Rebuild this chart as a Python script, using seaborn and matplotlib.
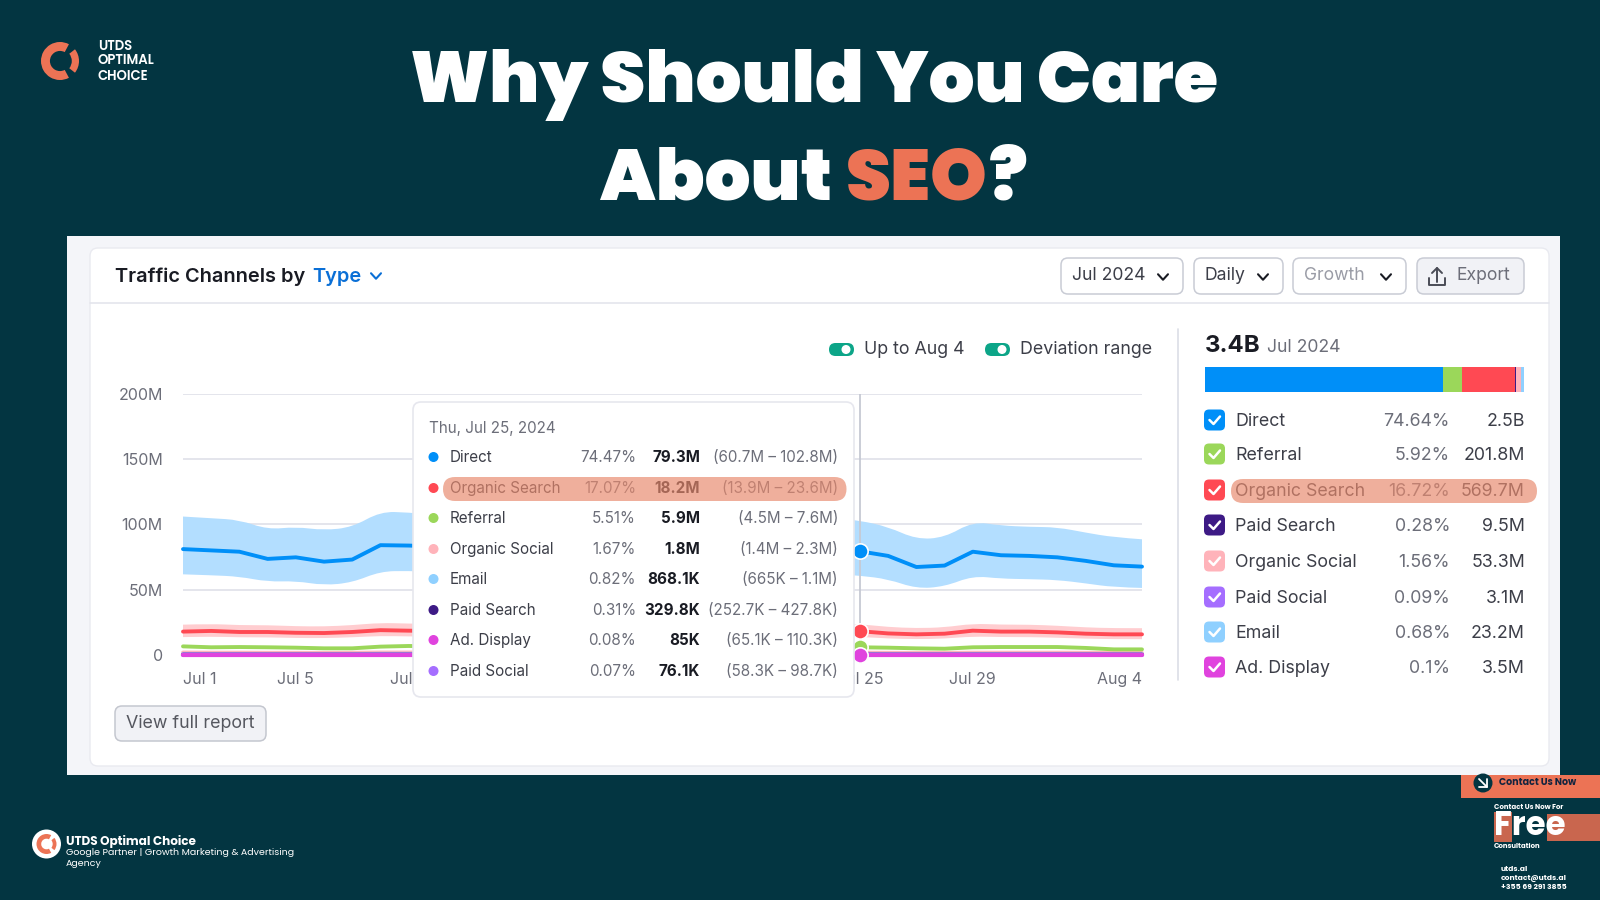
import matplotlib
matplotlib.use("Agg")
import matplotlib.pyplot as plt
import matplotlib.dates as mdates
from matplotlib.path import Path
from matplotlib.patches import FancyBboxPatch, PathPatch, Wedge, Circle, Rectangle
import seaborn as sns
import pandas as pd
import numpy as np

sns.set_theme(style="white")
plt.rcParams["font.family"] = ["Inter", "DejaVu Sans"]

# ---- data (days behind the tooltip are estimates) ----
days = pd.date_range("2024-07-01", "2024-08-04")

direct = [81, 80, 79, 73.5, 74.7, 71.4, 73, 84, 83.7, 83, 82, 80, 78, 76, 79, 82, 84, 81, 80, 78, 77, 80, 82, 81,
          79.3, 75.8, 67.3, 68.4, 79, 76.3, 75.8, 74.7, 72, 68.6, 67.6]
direct_hi = [105.9, 104.6, 103.3, 96, 98, 95.4, 97.7, 109.7, 109, 107, 106, 104, 101, 99, 102, 106, 109, 105, 104, 101, 100, 104, 106, 105,
             102.8, 98, 88.5, 89.8, 102, 99, 98, 97.7, 93.6, 90, 88.5]
direct_lo = [61.7, 61, 60, 56, 56.6, 53.3, 55.4, 64, 64.3, 63.5, 63, 61, 60, 58, 60.5, 63, 64, 62, 61, 60, 59, 61, 63, 62,
             60.7, 58, 50.8, 52.3, 60.5, 58.4, 58, 57.4, 54.8, 51.8, 51.3]
organic = [17.9, 18.4, 17.6, 17.6, 17, 16.8, 17.6, 19, 18.6, 18.4, 18, 17.6, 17.2, 17, 17.6, 18.2, 18.6, 18, 17.8, 17.4, 17.2, 17.8, 18.4, 18.3,
           18.2, 16.5, 15.8, 16.3, 18.6, 17.9, 17.9, 17.3, 16.3, 15.8, 15.8]
organic_hi = [23.2, 23.8, 22.8, 22.8, 22, 21.8, 22.8, 24.6, 24, 23.8, 23.3, 22.8, 22.3, 22, 22.8, 23.6, 24, 23.3, 23, 22.5, 22.3, 23, 23.8, 23.7,
              23.6, 21.4, 20.5, 21.1, 24, 23.2, 23.2, 22.4, 21.1, 20.5, 20.5]
organic_lo = [13.7, 14.1, 13.5, 13.5, 13, 12.9, 13.5, 14.6, 14.2, 14.1, 13.8, 13.5, 13.2, 13, 13.5, 13.9, 14.2, 13.8, 13.6, 13.3, 13.2, 13.6, 14.1, 14,
              13.9, 12.6, 12.1, 12.5, 14.2, 13.7, 13.7, 13.2, 12.5, 12.1, 12.1]
referral = [6.6, 5.9, 6.1, 5.9, 5.6, 5.1, 5.1, 6.4, 6.9, 6.6, 6.4, 6, 5.8, 5.6, 5.9, 6.2, 6.4, 6.1, 6, 5.8, 5.7, 5.9, 6.1, 6,
            5.9, 5.6, 5.1, 4.8, 5.9, 6.1, 6.1, 6.1, 5.4, 4.3, 4.3]
org_social = [1.9, 1.8, 1.8, 1.7, 1.7, 1.6, 1.7, 1.9, 1.9, 1.9, 1.8, 1.8, 1.7, 1.7, 1.8, 1.8, 1.9, 1.8, 1.8, 1.7, 1.7, 1.8, 1.8, 1.8,
              1.8, 1.7, 1.6, 1.6, 1.8, 1.8, 1.8, 1.8, 1.7, 1.6, 1.6]
email = [0.8, 0.8, 0.8, 0.7, 0.7, 0.7, 0.7, 0.9, 0.9, 0.9, 0.8, 0.8, 0.8, 0.8, 0.8, 0.9, 0.9, 0.8, 0.8, 0.8, 0.8, 0.8, 0.9, 0.9,
         0.87, 0.8, 0.7, 0.7, 0.8, 0.8, 0.8, 0.8, 0.7, 0.7, 0.7]
paid_search = [0.3, 0.3, 0.3, 0.3, 0.3, 0.3, 0.3, 0.3, 0.3, 0.3, 0.3, 0.3, 0.3, 0.3, 0.3, 0.3, 0.3, 0.3, 0.3, 0.3, 0.3, 0.3, 0.3, 0.3,
               0.33, 0.3, 0.3, 0.3, 0.3, 0.3, 0.3, 0.3, 0.3, 0.3, 0.3]
ad_display = [0.1, 0.1, 0.1, 0.1, 0.1, 0.1, 0.1, 0.1, 0.1, 0.1, 0.1, 0.1, 0.1, 0.1, 0.1, 0.1, 0.1, 0.1, 0.1, 0.1, 0.1, 0.1, 0.1, 0.1,
              0.085, 0.1, 0.1, 0.1, 0.1, 0.1, 0.1, 0.1, 0.1, 0.1, 0.1]
paid_social = [0.08, 0.08, 0.08, 0.08, 0.08, 0.08, 0.08, 0.08, 0.08, 0.08, 0.08, 0.08, 0.08, 0.08, 0.08, 0.08, 0.08, 0.08, 0.08, 0.08, 0.08, 0.08, 0.08, 0.08,
               0.076, 0.08, 0.08, 0.08, 0.08, 0.08, 0.08, 0.08, 0.08, 0.08, 0.08]

y_ticks = [0, 50, 100, 150, 200]
y_tick_labels = ["0", "50M", "100M", "150M", "200M"]
# Jul 13, 17 and 21 sit fully behind the tooltip in the reference
x_tick_days = ["2024-07-01", "2024-07-05", "2024-07-09", "2024-07-25", "2024-07-29", "2024-08-04"]
x_tick_labels = ["Jul 1", "Jul 5", "Jul 9", "Jul 25", "Jul 29", "Aug 4"]

# tooltip table
tip_names = ["Direct", "Organic Search", "Referral", "Organic Social", "Email", "Paid Search", "Ad. Display", "Paid Social"]
tip_pct = ["74.47%", "17.07%", "5.51%", "1.67%", "0.82%", "0.31%", "0.08%", "0.07%"]
tip_val = ["79.3M", "18.2M", "5.9M", "1.8M", "868.1K", "329.8K", "85K", "76.1K"]
tip_rng = ["(60.7M – 102.8M)", "(13.9M – 23.6M)", "(4.5M – 7.6M)", "(1.4M – 2.3M)", "(665K – 1.1M)",
           "(252.7K – 427.8K)", "(65.1K – 110.3K)", "(58.3K – 98.7K)"]

# right-hand breakdown
side_names = ["Direct", "Referral", "Organic Search", "Paid Search", "Organic Social", "Paid Social", "Email", "Ad. Display"]
side_share = [74.64, 5.92, 16.72, 0.28, 1.56, 0.09, 0.68, 0.1]
side_pct = ["74.64%", "5.92%", "16.72%", "0.28%", "1.56%", "0.09%", "0.68%", "0.1%"]
side_val = ["2.5B", "201.8M", "569.7M", "9.5M", "53.3M", "3.1M", "23.2M", "3.5M"]

colors = {"Direct": "#008ff8", "Referral": "#9bd75a", "Organic Search": "#ff4953", "Paid Search": "#3d1a85",
          "Organic Social": "#ffb3ba", "Paid Social": "#a56eff", "Email": "#8fd0ff", "Ad. Display": "#e043de"}

BG = "#033541"
ORANGE = "#ec7355"
DARK = "#191b23"
GRAY = "#6c6e79"
HILITE = "#e88a6e"
UI_FONT = ["Inter", "DejaVu Sans"]
BRAND = ["Poppins", "Lato", "DejaVu Sans"]

W, H = 1600, 900
fig = plt.figure(figsize=(16, 9), dpi=100, facecolor=BG)


def pixel_axes(z):
    a = fig.add_axes([0, 0, 1, 1], zorder=z)
    a.set_xlim(0, W)
    a.set_ylim(H, 0)
    a.axis("off")
    a.patch.set_alpha(0)
    return a


def box(a, x0, y0, x1, y1, r, fc, ec="none", lw=1.0, alpha=None, z=2):
    p = FancyBboxPatch((x0, y0), x1 - x0, y1 - y0, boxstyle=f"round,pad=0,rounding_size={r}",
                       fc=fc, ec=ec, lw=lw, alpha=alpha, zorder=z)
    a.add_patch(p)
    return p


def txt(a, x, y, s, px, color=DARK, weight="normal", ha="left", family=None, z=5):
    # Inter sits a touch high when centred, so nudge it down
    if family is None:
        family, y = UI_FONT, y + 1.5
    return a.text(x, y, s, fontsize=px * 0.72, color=color, fontweight=weight, ha=ha, va="center",
                  family=family, zorder=z)


def chevron(a, x, y, c=DARK, s=5, lw=1.5):
    a.plot([x - s, x, x + s], [y - s * 0.55, y + s * 0.55, y - s * 0.55], color=c, lw=lw, zorder=5,
           solid_capstyle="round", solid_joinstyle="round")


def logo(a, cx, cy, r, c=ORANGE):
    a.add_patch(Wedge((cx, cy), r, 62, 298, width=r * 0.47, fc=c, ec="none", zorder=5))
    a.add_patch(Wedge((cx, cy), r, -38, 38, width=r * 0.38, fc=c, ec="none", zorder=5))


def curve_edge(xs, ys):
    # quadratic curves through the daily values, the deviation range has rounded edges
    verts, codes = [], []
    for i in range(1, len(xs) - 1):
        if i == len(xs) - 2:
            end = (xs[i + 1], ys[i + 1])
        else:
            end = ((xs[i] + xs[i + 1]) / 2, (ys[i] + ys[i + 1]) / 2)
        verts += [(xs[i], ys[i]), end]
        codes += [Path.CURVE3, Path.CURVE3]
    return verts, codes


def smooth_band(a, xs, lo, hi, color):
    up_v, up_c = curve_edge(xs, hi)
    dn_v, dn_c = curve_edge(xs[::-1], lo[::-1])
    verts = [(xs[0], hi[0])] + up_v + [(xs[-1], lo[-1])] + dn_v + [(xs[0], hi[0])]
    codes = [Path.MOVETO] + up_c + [Path.LINETO] + dn_c + [Path.CLOSEPOLY]
    a.add_patch(PathPatch(Path(verts, codes), fc=color, ec="none", zorder=2))


# ---- background layer: panels ----
back = pixel_axes(0)
back.add_patch(Rectangle((67, 236), 1493, 539, fc="#f4f5f9", ec="none", zorder=1))
box(back, 90, 248, 1549, 766, 8, "white", ec="#e9eaf0", lw=1)
back.plot([90, 1549], [303, 303], color="#e4e5ec", lw=1.2, zorder=3)
back.plot([1178, 1178], [329, 680], color="#dcdee6", lw=1.2, zorder=3)

# ---- main chart ----
ax = fig.add_axes([183 / W, 1 - 655 / H, (1142 - 183) / W, (655 - 393.5) / H], zorder=1)
ax.patch.set_alpha(0)

frame = pd.DataFrame({"day": days, "Direct": direct, "Organic Search": organic, "Referral": referral,
                      "Organic Social": org_social, "Email": email, "Paid Search": paid_search,
                      "Paid Social": paid_social, "Ad. Display": ad_display})
long_df = frame.melt(id_vars="day", var_name="channel", value_name="visits")

day_nums = list(mdates.date2num(days))
smooth_band(ax, day_nums, direct_lo, direct_hi, "#b3deff")
smooth_band(ax, day_nums, organic_lo, organic_hi, "#ffcdd0")
draw_order = ["Organic Social", "Email", "Direct", "Organic Search", "Referral", "Paid Search", "Paid Social", "Ad. Display"]
sns.lineplot(data=long_df, x="day", y="visits", hue="channel", hue_order=draw_order, palette=colors,
             linewidth=2.8, legend=False, ax=ax, zorder=3)
for line in ax.get_lines():
    line.set_clip_on(False)
ax.get_lines()[draw_order.index("Ad. Display")].set_linewidth(3.2)

ax.set_xlim(days[0], days[-1])
ax.set_ylim(0, 200)
ax.set_yticks(y_ticks, y_tick_labels, fontsize=11.5, color=GRAY)
ax.set_xticks(pd.to_datetime(x_tick_days), x_tick_labels, fontsize=11.5, color=GRAY)
ax.get_xticklabels()[0].set_ha("left")
ax.get_xticklabels()[-1].set_ha("right")
ax.tick_params(axis="both", length=0)
ax.tick_params(axis="x", pad=12)
ax.tick_params(axis="y", pad=14.5)
ax.set_xlabel("")
ax.set_ylabel("")
ax.grid(axis="y", color="#e4e5ec", lw=1.4, zorder=1)
for sp in ax.spines.values():
    sp.set_visible(False)

hover = pd.Timestamp("2024-07-25")
hover_i = list(days).index(hover)
ax.axvline(hover, color="#c6c9d3", lw=1.3, zorder=2.5)
hover_points = [("Referral", referral), ("Direct", direct), ("Organic Search", organic), ("Ad. Display", ad_display)]
for name, vals in hover_points:
    ax.plot([hover], [vals[hover_i]], "o", ms=11, color=colors[name], mec="white", mew=1.2, zorder=4, clip_on=False)

# stacked share bar
bar_ax = fig.add_axes([1205 / W, 1 - 392 / H, (1524 - 1205) / W, 25 / H], zorder=1)
left = 0
for name, share in zip(side_names, side_share):
    bar_ax.barh(0, share, left=left, height=1, color=colors[name], lw=0)
    left += share
bar_ax.set_xlim(0, 100)
bar_ax.set_ylim(-0.5, 0.5)
bar_ax.axis("off")

# ---- top layer: page furniture, tooltip and texts ----
top = pixel_axes(3)

# header
txt(top, 814, 85, "Why Should You Care", 72, "white", 900, "center", BRAND)
fig.canvas.draw()
rend = fig.canvas.get_renderer()
run_x = 600
for part, col, gap in [("About", "white", 14), ("SEO", ORANGE, 1), ("?", "white", 0)]:
    t = txt(top, run_x, 183, part, 72, col, 900, "left", BRAND)
    run_x += t.get_window_extent(rend).width + gap

logo(top, 60, 61, 19)
for yy, s in zip([46, 61, 76], ["UTDS", "OPTIMAL", "CHOICE"]):
    txt(top, 98, yy, s, 13.2, "white", "semibold", family=BRAND)

# card header
txt(top, 115, 275, "Traffic Channels by", 20, DARK, "semibold")
txt(top, 312, 275, "Type", 20, "#0a6fd6", "semibold")
chevron(top, 376, 276, "#0a6fd6")
btns = [(1061, 1183, "#ffffff"), (1194, 1283, "#ffffff"), (1293, 1406, "#ffffff"), (1417, 1524, "#f1f2f6")]
for x0, x1, fc in btns:
    box(top, x0, 258, x1, 294, 7, fc, ec="#c9ccd5", lw=1.1)
txt(top, 1072, 274.5, "Jul 2024", 17.6, "#3c3e48")
chevron(top, 1163, 277)
txt(top, 1204, 274.5, "Daily", 17.6, "#3c3e48")
chevron(top, 1263, 277)
txt(top, 1304, 274.5, "Growth", 17.6, "#9a9ca6")
chevron(top, 1386, 277)
txt(top, 1457, 274.5, "Export", 17.6, "#6c6e79")
top.plot([1429, 1429, 1445, 1445], [278, 285, 285, 278], color="#4a4c56", lw=1.4, zorder=5)
top.plot([1437, 1437], [282, 268], color="#4a4c56", lw=1.4, zorder=5)
top.plot([1432, 1437, 1442], [273, 268, 273], color="#4a4c56", lw=1.4, zorder=5)

# toggles
for x0, label_x, label in [(829, 864, "Up to Aug 4"), (985, 1020, "Deviation range")]:
    box(top, x0, 343, x0 + 25, 356, 6.5, "#0ca588")
    top.add_patch(Circle((x0 + 17, 349.5), 4.5, fc="white", ec="none", zorder=5))
    txt(top, label_x, 348, label, 17.8, "#3c3e48")

# view full report
box(top, 115, 706, 266, 741, 7, "#f1f2f6", ec="#c4c7cf", lw=1.1)
txt(top, 190.5, 722, "View full report", 17.8, "#55575f", ha="center")

# tooltip
box(top, 413, 402, 854, 697, 8, "white", ec="#e6e7ee", lw=1.2, z=3)
txt(top, 429, 426.5, "Thu, Jul 25, 2024", 15.2, GRAY)
tip_y = [456, 487, 517, 548, 578, 609, 639, 670]
for yy, n, p, v, r in zip(tip_y, tip_names, tip_pct, tip_val, tip_rng):
    top.add_patch(Circle((433.5, yy + 1), 5, fc=colors[n], ec="none", zorder=5))
    txt(top, 449.5, yy, n, 15.2, "#3c3e48")
    txt(top, 636, yy, p, 15.2, GRAY, ha="right")
    txt(top, 700, yy, v, 15.2, DARK, "bold", ha="right")
    txt(top, 838, yy, r, 15.2, GRAY, ha="right")
box(top, 443, 477, 846.5, 501, 12, HILITE, alpha=0.68, z=6)

# right panel
txt(top, 1205, 344, "3.4B", 24, DARK, "bold")
txt(top, 1267, 346, "Jul 2024", 17.6, GRAY)
side_y = [420, 454, 490, 525, 561, 597, 632, 667]
for yy, n, p, v in zip(side_y, side_names, side_pct, side_val):
    box(top, 1204, yy - 10.5, 1225, yy + 10.5, 5, colors[n])
    top.plot([1209.5, 1213.5, 1220], [yy, yy + 4, yy - 3.5], color="white", lw=1.8, zorder=5,
             solid_capstyle="round", solid_joinstyle="round")
    txt(top, 1235, yy, n, 17.8, "#3c3e48")
    txt(top, 1450, yy, p, 17.8, GRAY, ha="right")
    txt(top, 1525, yy, v, 17.8, "#3c3e48", ha="right")
box(top, 1231, 479, 1537, 503, 12, HILITE, alpha=0.68, z=6)

# footer left
top.add_patch(Circle((46.5, 844), 14.5, fc="white", ec="none", zorder=4))
logo(top, 46.5, 844, 10)
txt(top, 66, 841, "UTDS Optimal Choice", 12, "white", "bold", family=BRAND)
txt(top, 66, 852.5, "Google Partner | Growth Marketing & Advertising", 9.5, "white", family=BRAND)
txt(top, 66, 864, "Agency", 9.5, "white", family=BRAND)

# footer right
top.add_patch(Rectangle((1461, 775), 139, 23, fc=ORANGE, ec="none", zorder=3))
top.add_patch(Circle((1483, 783), 9.5, fc=BG, ec="none", zorder=4))
top.plot([1479, 1487], [779, 787], color="white", lw=1.3, zorder=5)
top.plot([1479, 1487, 1487], [787, 787, 779], color="white", lw=1.3, zorder=5)
txt(top, 1499, 782.5, "Contact Us Now", 9.5, "#12243f", "bold", family=BRAND)
txt(top, 1494, 807.5, "Contact Us Now For", 7, "white", "bold", family=BRAND)
top.add_patch(Rectangle((1494, 812), 18, 30, fc="#c9664e", ec="none", zorder=3))
top.add_patch(Rectangle((1547, 814), 53, 27, fc="#c9664e", ec="none", zorder=3))
txt(top, 1494, 827, "Free", 32.5, "white", "bold", family=BRAND)
txt(top, 1494, 847, "Consultation", 7, "white", "bold", family=BRAND)
for yy, s in zip([869.5, 878.5, 887.5], ["utds.al", "contact@utds.al", "+355 69 291 3855"]):
    txt(top, 1501, yy, s, 7.6, "white", "bold", family=BRAND)

fig.savefig("out.png", dpi=100, facecolor=BG)
plt.close(fig)
